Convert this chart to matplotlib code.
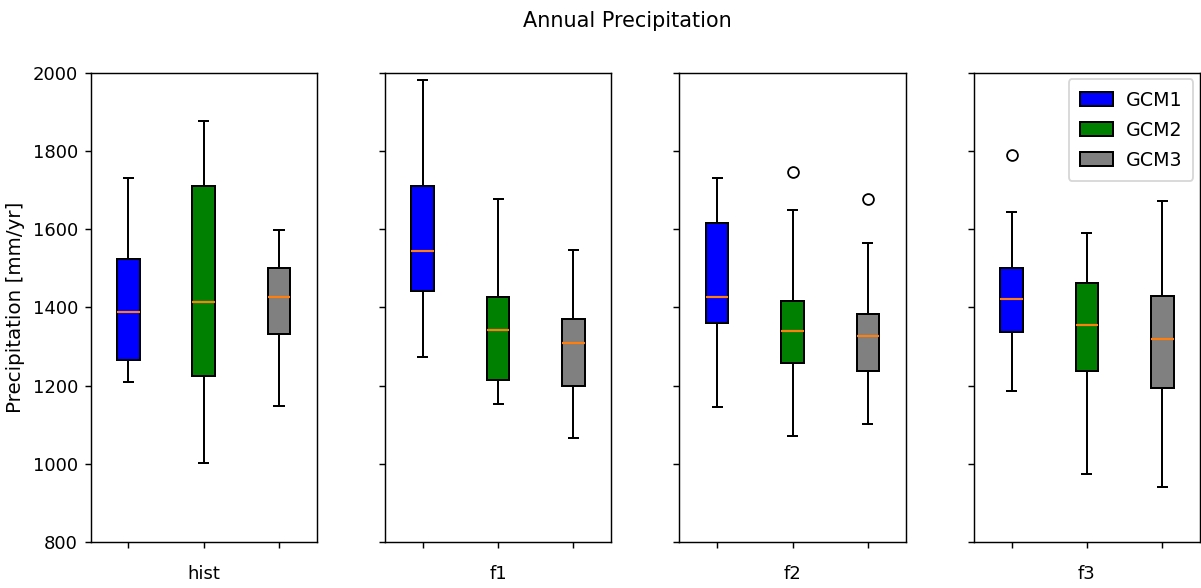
import matplotlib
matplotlib.use("Agg")
import matplotlib.pyplot as plt

# Periods (one panel each) and climate models (one box each)
periods = ["hist", "f1", "f2", "f3"]
models = ["GCM1", "GCM2", "GCM3"]
colors = ["blue", "green", "grey"]

# Box statistics per model, one value per period [mm/yr]
gcm1_whishi = [1731, 1980, 1731, 1645]
gcm1_q3 = [1524, 1709, 1616, 1501]
gcm1_med = [1389, 1543, 1427, 1422]
gcm1_q1 = [1265, 1442, 1360, 1337]
gcm1_whislo = [1210, 1273, 1146, 1187]
gcm1_fliers = [[], [], [], [1790]]

gcm2_whishi = [1876, 1678, 1650, 1589]
gcm2_q3 = [1710, 1427, 1416, 1463]
gcm2_med = [1414, 1342, 1339, 1355]
gcm2_q1 = [1225, 1213, 1258, 1236]
gcm2_whislo = [1003, 1153, 1071, 973]
gcm2_fliers = [[], [], [1746], []]

gcm3_whishi = [1597, 1547, 1564, 1672]
gcm3_q3 = [1500, 1371, 1383, 1430]
gcm3_med = [1426, 1308, 1328, 1320]
gcm3_q1 = [1332, 1198, 1236, 1194]
gcm3_whislo = [1147, 1067, 1103, 941]
gcm3_fliers = [[], [], [1677], []]

series = [
    (gcm1_whislo, gcm1_q1, gcm1_med, gcm1_q3, gcm1_whishi, gcm1_fliers),
    (gcm2_whislo, gcm2_q1, gcm2_med, gcm2_q3, gcm2_whishi, gcm2_fliers),
    (gcm3_whislo, gcm3_q1, gcm3_med, gcm3_q3, gcm3_whishi, gcm3_fliers),
]

yticks = [800, 1000, 1200, 1400, 1600, 1800, 2000]

dpi = 130
fig, axes = plt.subplots(1, 4, sharey=True, figsize=(1201 / dpi, 588 / dpi), dpi=dpi)
fig.subplots_adjust(left=0.0754, right=0.9992, top=0.8764, bottom=0.0782, wspace=0.302)

positions = [1, 2, 3]
for p, (ax, period) in enumerate(zip(axes, periods)):
    stats = []
    for name, (lo, q1, med, q3, hi, fl) in zip(models, series):
        stats.append(dict(label=name, whislo=lo[p], q1=q1[p], med=med[p],
                          q3=q3[p], whishi=hi[p], fliers=fl[p]))
    bp = ax.bxp(stats, positions=positions, widths=0.3, capwidths=0.12,
                patch_artist=True, showfliers=True,
                boxprops=dict(linewidth=1.1),
                whiskerprops=dict(linewidth=1.1),
                capprops=dict(linewidth=1.1),
                medianprops=dict(color="C1", linewidth=1.2),
                flierprops=dict(marker="o", markerfacecolor="none",
                                markeredgecolor="black"))
    for box, c in zip(bp["boxes"], colors):
        box.set_facecolor(c)
        box.set_edgecolor("black")
    ax.set_xticks(positions)
    ax.set_xticklabels(["", period, ""])
    ax.tick_params(axis="x", pad=9)
    ax.set_xlim(0.5, 3.5)
    ax.set_ylim(800, 2000)
    ax.set_yticks(yticks)

axes[0].set_ylabel("Precipitation [mm/yr]", fontsize=11)
axes[-1].legend(bp["boxes"], models, loc="upper right", fontsize=10.5,
                borderpad=0.6, labelspacing=0.58, handlelength=1.75,
                handleheight=0.8, handletextpad=0.65, borderaxespad=0.35)

fig.suptitle("Annual Precipitation", x=0.5225, y=0.964, va="center", fontsize=11.5)

fig.savefig("out.png", dpi=dpi)
